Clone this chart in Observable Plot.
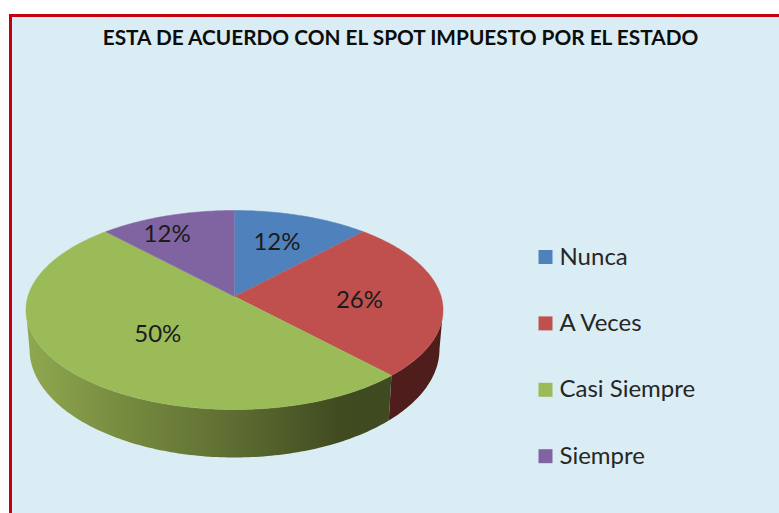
<!DOCTYPE html>
<html lang="es">
<head>
<meta charset="utf-8">
<script src="https://cdn.jsdelivr.net/npm/d3@7"></script>
<script src="https://cdn.jsdelivr.net/npm/@observablehq/plot@0.6"></script>
<style>
html,body{margin:0;padding:0;background:#fff;width:779px;height:513px;overflow:hidden}
#frame{position:absolute;left:9px;top:14px;width:770px;height:499px;background:#dbedf4;border-left:3px solid #c4000c;border-top:3px solid #c4000c;box-sizing:border-box}
#chart{position:absolute;left:0;top:0}
#chart svg{background:transparent}
</style>
</head>
<body>
<div id="frame"></div>
<div id="chart"></div>
<script>
const chartTitle = "ESTA DE ACUERDO CON EL SPOT IMPUESTO POR EL ESTADO";
const categories = ["Nunca", "A Veces", "Casi Siempre", "Siempre"];
const percents = [12, 26, 50, 12];
const colors = ["#4f81bd", "#c0504d", "#9bbb59", "#8064a2"];
const wallColors = ["#4f81bd", "#4f1e1c", "url(#greenWall)", "#8064a2"];

// Perspective of the disc as seen in the picture
const cx = 234, cy = 296, A = 206.6, B = 97.7, P = 0.1357;
const wallScaleX = 0.983, wallScaleY = 1.088, wallDrop = 38;

const project = (angle, r = 1) => {
  const u = r * Math.sin(angle), v = -r * Math.cos(angle), w = 1 - P * v;
  return {x: A * u / w, y: B * v / w};
};
const toAngle = (p) => p / 100 * 2 * Math.PI;

let run = 0;
const slices = categories.map((cat, i) => {
  const s = {cat, i, pct: percents[i], a0: toAngle(run), a1: toAngle(run + percents[i])};
  run += percents[i];
  s.mid = (s.a0 + s.a1) / 2;
  return s;
});

const arc = (a0, a1) => {
  const n = Math.max(2, Math.ceil((a1 - a0) * 60));
  return d3.range(n + 1).map((k) => project(a0 + (a1 - a0) * k / n));
};

const topFace = slices.flatMap((s) => [
  {cat: s.cat, x: cx, y: cy},
  ...arc(s.a0, s.a1).map((p) => ({cat: s.cat, x: cx + p.x, y: cy + p.y}))
]);

// Only the part of the rim that faces the viewer has a wall
const rimStart = Math.acos(-P), rimEnd = 2 * Math.PI - rimStart;
const wallFor = (s) => {
  const a = arc(Math.max(s.a0, rimStart), Math.min(s.a1, rimEnd));
  return [
    ...a.map((p) => ({x: cx + p.x, y: cy + p.y})),
    ...a.slice().reverse().map((p) => ({x: cx + p.x * wallScaleX, y: cy + wallDrop + p.y * wallScaleY}))
  ];
};

// Nudges of the value labels, as placed by the original chart
const nudges = [[0, -4], [1, 4], [19, -5], [-25, -12]];
const labelMark = (s) => {
  const p = project(s.mid, 0.6);
  return Plot.text([{x: cx + p.x, y: cy + p.y, t: s.pct + "%"}], {
    x: "x", y: "y", text: "t", dx: nudges[s.i][0], dy: nudges[s.i][1],
    fontFamily: "Lato", fontSize: 24, fill: "#1b1b1b"
  });
};

const legendRows = categories.map((cat, i) => ({cat, x: 545, tx: 559, y: 256.5 + i * 66.4}));

const gradient = () => {
  const ns = "http://www.w3.org/2000/svg";
  const defs = document.createElementNS(ns, "defs");
  const g = document.createElementNS(ns, "linearGradient");
  g.setAttribute("id", "greenWall");
  g.setAttribute("gradientUnits", "userSpaceOnUse");
  g.setAttribute("x1", 28); g.setAttribute("x2", 390);
  g.setAttribute("y1", 0); g.setAttribute("y2", 0);
  [[0, "#8ea84f"], [0.25, "#788c40"], [0.55, "#5f6f33"], [0.86, "#404b20"], [1, "#3f4a20"]].forEach(([o, c]) => {
    const st = document.createElementNS(ns, "stop");
    st.setAttribute("offset", o); st.setAttribute("stop-color", c);
    g.appendChild(st);
  });
  defs.appendChild(g);
  return defs;
};

const plot = Plot.plot({
  width: 779, height: 513, margin: 0,
  x: {domain: [0, 779], range: [0, 779], axis: null},
  y: {domain: [0, 513], range: [0, 513], axis: null},
  color: {domain: categories, range: colors},
  style: {background: "transparent"},
  marks: [
    gradient,
    ...slices.filter((s) => s.i === 1 || s.i === 2).map((s) =>
      Plot.line(wallFor(s), {x: "x", y: "y", fill: wallColors[s.i], stroke: "none"})
    ),
    Plot.line(topFace, {x: "x", y: "y", z: "cat", fill: "cat", stroke: "cat", strokeWidth: 0.5}),
    ...slices.map(labelMark),
    Plot.text([chartTitle], {
      x: () => 400, y: () => 38, text: (d) => d,
      fontFamily: "Lato", fontWeight: 700, fontSize: 20.8, fill: "#0d0d0d"
    }),
    Plot.dot(legendRows, {x: "x", y: "y", fill: "cat", symbol: "square", r: 7.9}),
    Plot.text(legendRows, {
      x: "tx", y: "y", text: "cat", textAnchor: "start",
      fontFamily: "Lato", fontSize: 24, fill: "#262626"
    })
  ]
});
document.getElementById("chart").appendChild(plot);
</script>
</body>
</html>
